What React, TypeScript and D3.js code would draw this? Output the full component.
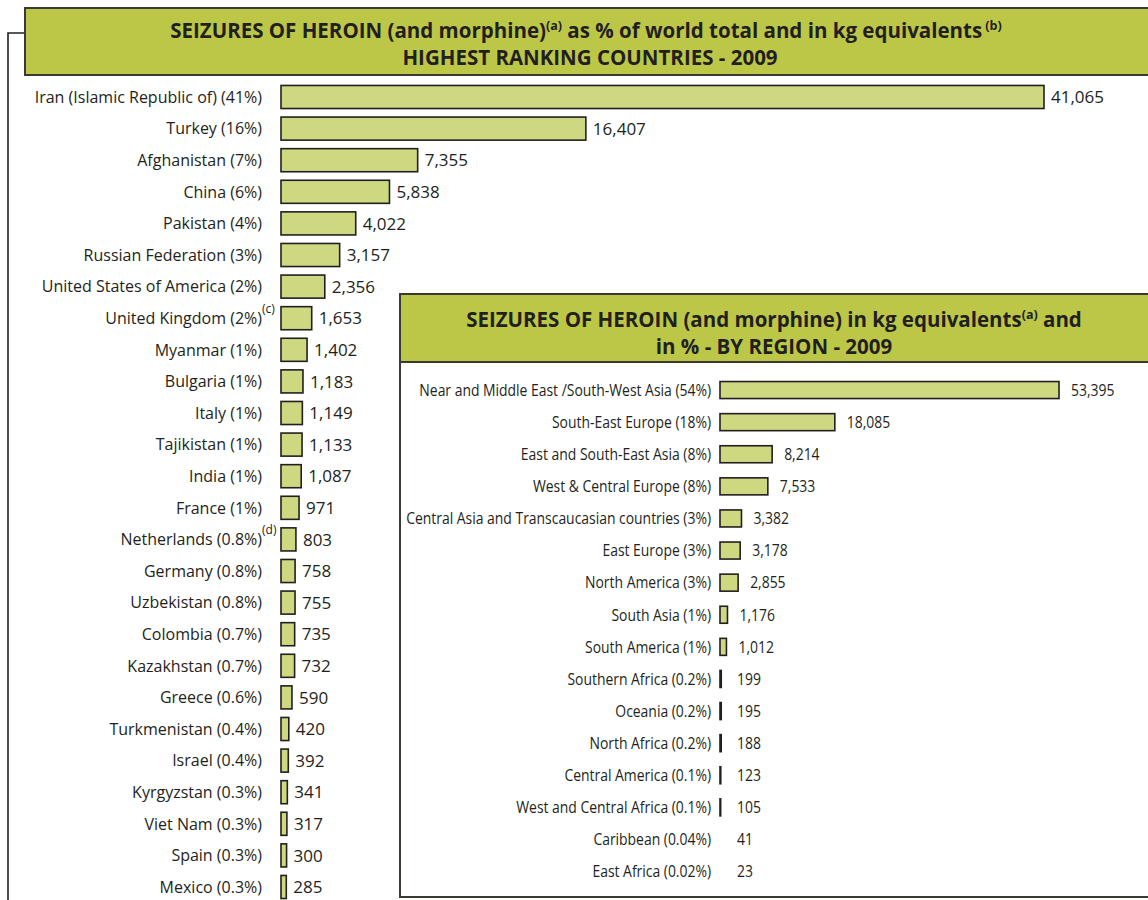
import React from "react";
import * as d3 from "d3";

const countries = [
  "Iran (Islamic Republic of) (41%)",
  "Turkey (16%)",
  "Afghanistan (7%)",
  "China (6%)",
  "Pakistan (4%)",
  "Russian Federation (3%)",
  "United States of America (2%)",
  "United Kingdom (2%)",
  "Myanmar (1%)",
  "Bulgaria (1%)",
  "Italy (1%)",
  "Tajikistan (1%)",
  "India (1%)",
  "France (1%)",
  "Netherlands (0.8%)",
  "Germany (0.8%)",
  "Uzbekistan (0.8%)",
  "Colombia (0.7%)",
  "Kazakhstan (0.7%)",
  "Greece (0.6%)",
  "Turkmenistan (0.4%)",
  "Israel (0.4%)",
  "Kyrgyzstan (0.3%)",
  "Viet Nam (0.3%)",
  "Spain (0.3%)",
  "Mexico (0.3%)",
];
const countryValues = [
  41065, 16407, 7355, 5838, 4022, 3157, 2356, 1653, 1402, 1183, 1149, 1133,
  1087, 971, 803, 758, 755, 735, 732, 590, 420, 392, 341, 317, 300, 285,
];
const countryNotes = ["", "", "", "", "", "", "", "(c)", "", "", "", "", "", "", "(d)", "", "", "", "", "", "", "", "", "", "", ""];

const regions = [
  "Near and Middle East /South-West Asia (54%)",
  "South-East Europe (18%)",
  "East and South-East Asia (8%)",
  "West & Central Europe (8%)",
  "Central Asia and Transcaucasian countries (3%)",
  "East Europe (3%)",
  "North America (3%)",
  "South Asia (1%)",
  "South America (1%)",
  "Southern Africa (0.2%)",
  "Oceania (0.2%)",
  "North Africa (0.2%)",
  "Central America (0.1%)",
  "West and Central Africa (0.1%)",
  "Caribbean (0.04%)",
  "East Africa (0.02%)",
];
const regionValues = [53395, 18085, 8214, 7533, 3382, 3178, 2855, 1176, 1012, 199, 195, 188, 123, 105, 41, 23];

const TITLE_GREEN = "#bdc747";
const BAR_GREEN = "#ced880";
const INK = "#231f20";
const FONT = "'Open Sans', 'Noto Sans', sans-serif";

export default function App() {
  const fmt = d3.format(",");

  const x1 = d3.scaleLinear().domain([0, d3.max(countryValues)!]).range([281, 1044]);
  const y1 = d3
    .scaleBand<string>()
    .domain(countries)
    .range([81.2, 902.8])
    .paddingInner(0.27)
    .paddingOuter(0.135);

  const x2 = d3.scaleLinear().domain([0, d3.max(regionValues)!]).range([720, 1059]);
  const y2 = d3
    .scaleBand<string>()
    .domain(regions)
    .range([374, 887.6])
    .paddingInner(0.47)
    .paddingOuter(0.235);

  const cond = 0.87;
  const TS = 20.5;

  return (
    <svg width={1148} height={900} style={{ position: "absolute", left: 0, top: 0, background: "#fff" }} fontFamily={FONT}>
      <rect x={0} y={0} width={1148} height={900} fill="#fff" />
      {/* bracket line */}
      <path d="M25,33 H8 V902" fill="none" stroke={INK} strokeWidth={1.6} />
      {/* main title box */}
      <rect x={25} y={8} width={1130} height={67} fill={TITLE_GREEN} stroke="#3a3a32" strokeWidth={2} />
      <text x={586} y={38} textAnchor="middle" fontWeight="bold" fontSize={TS} fill={INK}>
        SEIZURES OF HEROIN (and morphine)
        <tspan dy={-8} fontSize={12.5}>(a)</tspan>
        <tspan dy={8}> as % of world total and in kg equivalents</tspan>
        <tspan dy={-8} fontSize={12.5}> (b)</tspan>
      </text>
      <text x={590} y={65} textAnchor="middle" fontWeight="bold" fontSize={TS} fill={INK}>
        HIGHEST RANKING COUNTRIES - 2009
      </text>

      {/* country bars */}
      {countries.map((c, i) => {
        const y = y1(c)!;
        const h = y1.bandwidth();
        const xe = x1(countryValues[i]);
        return (
          <g key={c}>
            <rect x={x1(0)} y={y} width={xe - x1(0)} height={h} fill={BAR_GREEN} stroke={INK} strokeWidth={1.6} />
            <text x={262} y={y + h / 2} dy="0.36em" textAnchor="end" fontSize={16} fill={INK}>
              {c}
            </text>
            {countryNotes[i] && (
              <text x={262} y={y + h / 2 - 5} fontSize={12} fill={INK}>
                {countryNotes[i]}
              </text>
            )}
            <text x={xe + 7} y={y + h / 2} dy="0.36em" fontSize={17} fill={INK}>
              {fmt(countryValues[i])}
            </text>
          </g>
        );
      })}

      {/* inset box */}
      <rect x={400} y={294} width={760} height={603} fill="#fff" stroke="#3a3a32" strokeWidth={2} />
      <rect x={400} y={294} width={760} height={68} fill={TITLE_GREEN} stroke="#3a3a32" strokeWidth={2} />
      <text x={774} y={327} textAnchor="middle" fontWeight="bold" fontSize={TS} fill={INK}>
        SEIZURES OF HEROIN (and morphine) in kg equivalents
        <tspan dy={-8} fontSize={12.5}>(a)</tspan>
        <tspan dy={8}> and</tspan>
      </text>
      <text x={774} y={354} textAnchor="middle" fontWeight="bold" fontSize={TS} fill={INK}>
        in % - BY REGION - 2009
      </text>

      {regions.map((r, i) => {
        const y = y2(r)!;
        const h = y2.bandwidth();
        const w = x2(regionValues[i]) - x2(0);
        const xe = x2(regionValues[i]);
        return (
          <g key={r}>
            {w >= 0.5 && (
              <rect x={x2(0)} y={y} width={w} height={h} fill={BAR_GREEN} stroke={INK} strokeWidth={1.6} />
            )}
            <text
              transform={`translate(711,${y + h / 2}) scale(${cond},1)`}
              dy="0.36em"
              textAnchor="end"
              fontSize={16}
              fill={INK}
            >
              {r}
            </text>
            <text
              transform={`translate(${Math.max(xe + 12, 737)},${y + h / 2}) scale(${cond},1)`}
              dy="0.36em"
              fontSize={16}
              fill={INK}
            >
              {fmt(regionValues[i])}
            </text>
          </g>
        );
      })}
    </svg>
  );
}
